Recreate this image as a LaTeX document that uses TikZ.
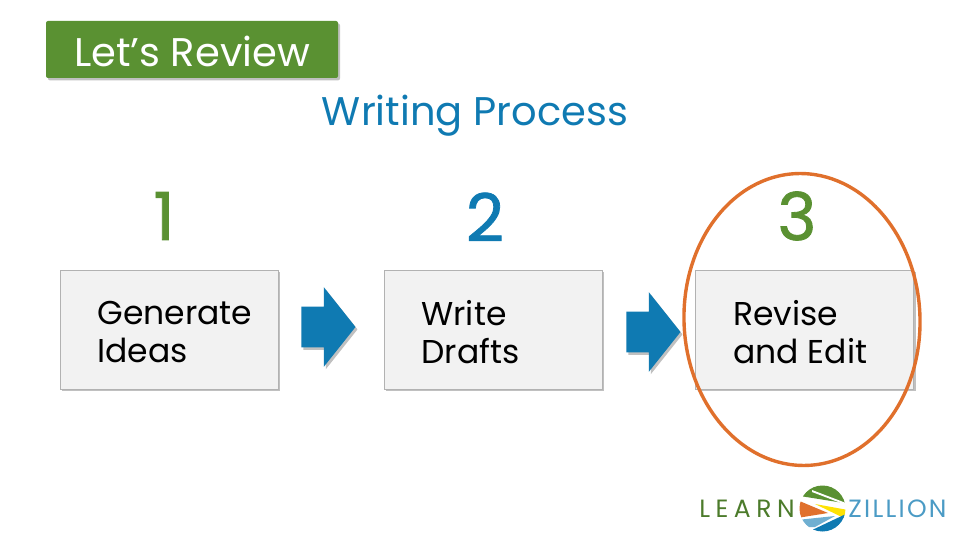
\documentclass[tikz,border=0pt]{standalone}
\usepackage{fontspec}
\setmainfont{Poppins}
\usetikzlibrary{shadows,shapes.arrows}
\definecolor{revgreen}{HTML}{5A9132}
\definecolor{revblue}{HTML}{0F7AB2}
\definecolor{revorange}{HTML}{E0702C}
\definecolor{boxgray}{HTML}{F2F2F2}
\tikzset{
    softshadow/.style={drop shadow={shadow xshift=1pt, shadow yshift=-1.2pt, fill=black!45, opacity=0.55}},
    stepbox/.style={draw=black!30, fill=boxgray, minimum width=109pt, minimum height=59.5pt, inner sep=0pt, softshadow},
    steptext/.style={anchor=west, align=left, inner sep=0pt, font=\fontsize{16.5}{19}\selectfont, text=black},
    stepnum/.style={font=\fontsize{33}{33}\selectfont\addfontfeature{FakeBold=1.2}},
    logotext/.style={font=\fontsize{12.5}{12.5}\selectfont, inner sep=0pt},
    nextarrow/.style={single arrow, anchor=tip, fill=revblue, minimum height=27pt, inner xsep=0pt, inner ysep=10pt, single arrow head extend=9.75pt, single arrow tip angle=103, softshadow}
}
\begin{document}
\begin{tikzpicture}[x=0.5pt, y=-0.5pt]
    \useasboundingbox (0,0) rectangle (960,540);
    % title
    \node [fill=revgreen, rounded corners=1pt, minimum width=146pt, minimum height=28.5pt, inner sep=0pt, softshadow] (review) at (192,49.5) {};
    \node [text=white, font=\fontsize{20}{20}\selectfont] (reviewtext) at (192,51) {Let's Review};
    \node [text=revblue, font=\fontsize{20}{20}\selectfont] (process) at (475,116) {Writing Process};
    % steps
    \node [stepnum, text=revgreen] (numone) at (164,216) {1};
    \node [stepnum, text=revblue] (numtwo) at (485,217) {2};
    \node [stepnum, text=revgreen] (numthree) at (797,216) {3};
    \node [stepbox] (generate) at (169,329.5) {};
    \node [stepbox] (write) at (493,329.5) {};
    \node [stepbox] (revise) at (804.5,329.5) {};
    \node [steptext] (generatetext) at (97,332) {Generate\\Ideas};
    \node [steptext] (writetext) at (421,332) {Write\\Drafts};
    \node [steptext] (revisetext) at (733,332) {Revise\\and Edit};
    \node [nextarrow] (arrowone) at (356,327) {};
    \node [nextarrow] (arrowtwo) at (681,332) {};
    % circled step
    \draw [line width=1.7pt, draw=revorange] (802,319.5) ellipse [x radius=118, y radius=146, rotate=2];
    % logo
    \node [logotext, text=revgreen!85!black, anchor=east] (learn) at (795,509) {\addfontfeature{LetterSpace=22}LEARN};
    \node [logotext, text=revblue!75, anchor=west] (zillion) at (848,509) {\addfontfeature{LetterSpace=9}ZILLION};
    \begin{scope}
        \clip (822.5,508.5) circle (23);
        \fill [white] (799,485) rectangle (846,532);
        \fill [revgreen] (800,496) -- (815,484) -- (850,486) -- (850,504) -- cycle;
        \fill [white] (812,490) -- (846,503) -- (846,505) -- (812,492) -- cycle;
        \fill [revorange] (797,500) -- (828,513) -- (797,518) -- cycle;
        \fill [yellow!85!orange] (815,504) -- (848,510) -- (848,520) -- cycle;
        \fill [revblue!60] (797,520) -- (835,516) -- (815,527) -- (797,527) -- cycle;
        \fill [revblue] (810,531) -- (848,513) -- (848,535) -- cycle;
    \end{scope}
\end{tikzpicture}
\end{document}
